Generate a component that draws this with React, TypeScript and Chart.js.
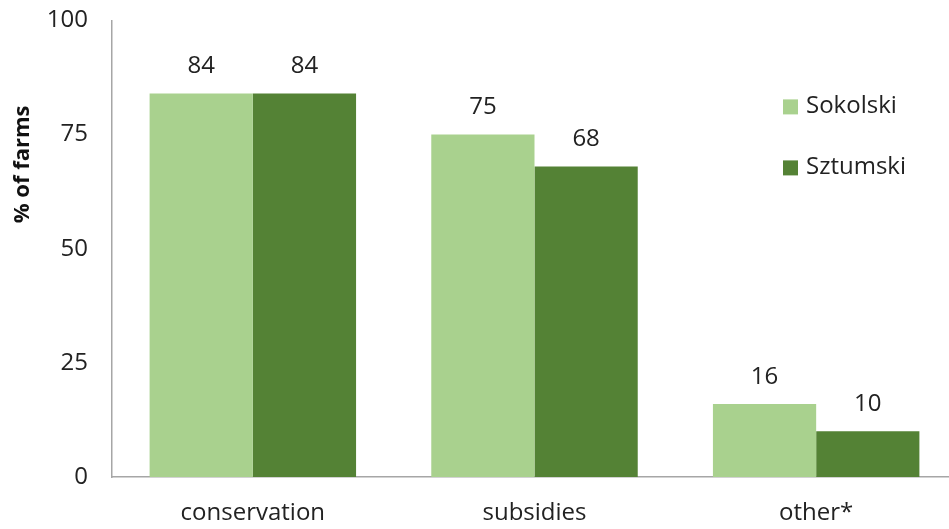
import React, { useEffect, useRef } from "react";
import { Chart, registerables } from "chart.js";

Chart.register(...registerables);

const categories = ["conservation", "subsidies", "other*"];
const seriesNames = ["Sokolski", "Sztumski"];
const sokolski = [84, 75, 16];
const sztumski = [84, 68, 10];
const yTicks = [0, 25, 50, 75, 100];
const yTitle = "% of farms";
const colors = ["#a9d18e", "#548235"];
const FONT = "'Open Sans', 'Liberation Sans', sans-serif";

const valueLabels = {
  id: "valueLabels",
  afterDatasetsDraw(chart: any) {
    const ctx = chart.ctx;
    ctx.save();
    ctx.font = `24px ${FONT}`;
    ctx.fillStyle = "#222";
    ctx.textAlign = "center";
    ctx.textBaseline = "middle";
    chart.data.datasets.forEach((ds: any, i: number) => {
      const meta = chart.getDatasetMeta(i);
      meta.data.forEach((bar: any, j: number) => {
        ctx.fillText(String(ds.data[j]), bar.x, bar.y - 27);
      });
    });
    ctx.restore();
  },
};

const customLegend = {
  id: "customLegend",
  afterDraw(chart: any) {
    const ctx = chart.ctx;
    const top = chart.chartArea.top;
    ctx.save();
    ctx.font = `24px ${FONT}`;
    ctx.textBaseline = "middle";
    ctx.textAlign = "left";
    const ys = [top + 86, top + 147];
    chart.data.datasets.forEach((ds: any, i: number) => {
      ctx.fillStyle = ds.backgroundColor;
      ctx.fillRect(783, ys[i] - 7, 15, 15);
      ctx.fillStyle = "#222";
      ctx.fillText(ds.label, 806, ys[i]);
    });
    ctx.restore();
  },
};

const axisTitle = {
  id: "axisTitle",
  afterDraw(chart: any) {
    const ctx = chart.ctx;
    const top = chart.chartArea.top;
    ctx.save();
    ctx.translate(23, top + 144);
    ctx.rotate(-Math.PI / 2);
    ctx.font = `bold 22px ${FONT}`;
    ctx.fillStyle = "#111";
    ctx.textAlign = "center";
    ctx.textBaseline = "middle";
    ctx.fillText(yTitle, 0, 0);
    ctx.restore();
  },
};

export default function App() {
  const ref = useRef<HTMLCanvasElement>(null);
  useEffect(() => {
    if (!ref.current) return;
    const chart = new Chart(ref.current, {
      type: "bar",
      data: {
        labels: categories,
        datasets: [
          { label: seriesNames[0], data: sokolski, backgroundColor: colors[0] },
          { label: seriesNames[1], data: sztumski, backgroundColor: colors[1] },
        ],
      },
      options: {
        animation: false,
        responsive: false,
        layout: { padding: { left: 0, right: 0, top: 4, bottom: 0 } },
        datasets: { bar: { categoryPercentage: 0.733, barPercentage: 1 } },
        plugins: { legend: { display: false }, tooltip: { enabled: false } },
        scales: {
          x: {
            grid: { display: false, drawTicks: false },
            border: { display: true, color: "#a6a6a6", width: 1.5 },
            ticks: { font: { family: FONT, size: 24 }, color: "#222", padding: 22 },
            afterFit(scale: any) {
              scale.height = 52;
            },
          },
          y: {
            min: 0,
            max: 100,
            afterBuildTicks(scale: any) {
              scale.ticks = yTicks.map((v) => ({ value: v }));
            },
            grid: { display: false, drawTicks: false },
            border: { display: true, color: "#a6a6a6", width: 1.5 },
            ticks: { font: { family: FONT, size: 24 }, color: "#222", padding: 24 },
            afterFit(scale: any) {
              scale.width = 112;
            },
          },
        },
      },
      plugins: [valueLabels, customLegend, axisTitle],
    } as any);
    return () => chart.destroy();
  }, []);
  return (
    <div
      style={{
        position: "fixed",
        left: 0,
        top: 0,
        width: 949,
        height: 529,
        overflow: "hidden",
        background: "#fff",
      }}
    >
      <canvas
        ref={ref}
        width={957}
        height={547}
        style={{ display: "block", position: "absolute", left: 0, top: -18 }}
      />
    </div>
  );
}
